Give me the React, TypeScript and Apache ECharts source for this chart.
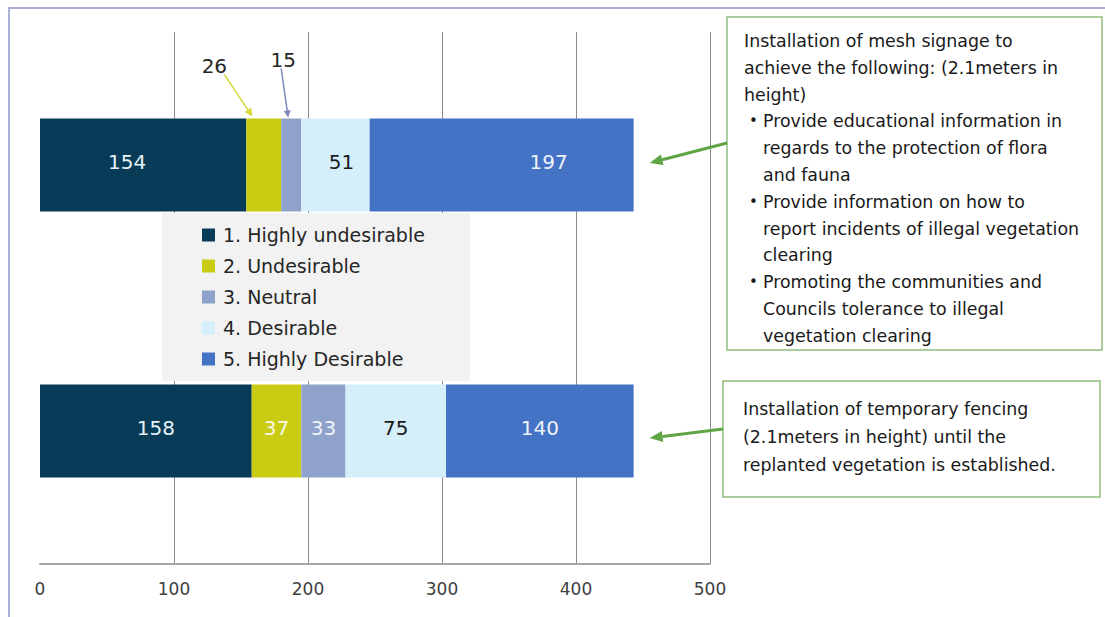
import React, { useEffect, useRef } from "react";
import * as echarts from "echarts";

const categories = ["Installation of mesh signage", "Installation of temporary fencing"];
const seriesNames = [
  "1. Highly undesirable",
  "2. Undesirable",
  "3. Neutral",
  "4. Desirable",
  "5. Highly Desirable",
];
const highlyUndesirable = [154, 158];
const undesirable = [26, 37];
const neutral = [15, 33];
const desirable = [51, 75];
const highlyDesirable = [197, 140];
const xMin = 0;
const xMax = 500;
const xStep = 100;

const colors = ["#073b58", "#cacc14", "#8ea2cc", "#d4eefa", "#4472c4"];
const labelColors = ["#e6f2f8", "#f8f8e6", "#f0f3fa", "#1a1a1a", "#eef2fa"];

const box1Header = [
  "Installation of mesh signage to",
  "achieve the following: (2.1meters in",
  "height)",
];
const box1Bullets = [
  ["Provide educational information in", "regards to the protection of flora", "and fauna"],
  ["Provide information on how to", "report incidents of illegal vegetation", "clearing"],
  ["Promoting the communities and", "Councils tolerance to illegal", "vegetation clearing"],
];
const box2Lines = [
  "Installation of temporary fencing",
  "(2.1meters in height) until the",
  "replanted vegetation is established.",
];

const FONT = "DejaVu Sans";
const BAR_W = 93;

function arrow(x1: number, y1: number, x2: number, y2: number, color: string, w: number, hl: number, hw: number) {
  const dx = x2 - x1, dy = y2 - y1;
  const L = Math.hypot(dx, dy);
  const ux = dx / L, uy = dy / L;
  const bx = x2 - ux * hl, by = y2 - uy * hl;
  const nx = -uy, ny = ux;
  return [
    { type: "line", silent: true, shape: { x1, y1, x2: bx, y2: by }, style: { stroke: color, lineWidth: w } },
    {
      type: "polygon",
      silent: true,
      shape: {
        points: [
          [x2, y2],
          [bx + (nx * hw) / 2, by + (ny * hw) / 2],
          [bx - (nx * hw) / 2, by - (ny * hw) / 2],
        ],
      },
      style: { fill: color },
    },
  ];
}

function txt(x: number, y: number, text: string, size: number, fill = "#1a1a1a", align = "left") {
  return {
    type: "text",
    silent: true,
    x,
    y,
    style: { text, fontSize: size, fontFamily: FONT, fill, align, verticalAlign: "middle" },
  };
}

export default function App() {
  const ref = useRef<HTMLDivElement>(null);
  useEffect(() => {
    if (!ref.current) return;
    const chart = echarts.init(ref.current, null, { renderer: "svg" });
    const allValues = [highlyUndesirable, undesirable, neutral, desirable, highlyDesirable];
    // label offsets (px) for a few labels placed off-center in the original
    const labelShift: Record<string, number> = { "0-0": -16, "0-1": 10, "4-0": 47, "3-0": 6 };
    const hiddenTop = new Set(["1-0", "2-0"]);
    const series = allValues.map((vals, si) => ({
      name: seriesNames[si],
      type: "bar",
      stack: "total",
      barWidth: BAR_W,
      itemStyle: { color: colors[si] },
      label: {
        show: true,
        position: "inside",
        fontFamily: FONT,
        fontSize: 20,
        color: labelColors[si],
      },
      data: vals.map((v, ci) => {
        const key = `${si}-${ci}`;
        return {
          value: v,
          label: {
            show: !hiddenTop.has(key),
            offset: [labelShift[key] || 0, -3],
          },
        };
      }),
    }));

    const option: any = {
      animation: false,
      backgroundColor: "#ffffff",
      grid: { left: 40, right: 395, top: 32, bottom: 53, containLabel: false },
      xAxis: {
        type: "value",
        min: xMin,
        max: xMax,
        interval: xStep,
        axisLine: { show: true, lineStyle: { color: "#a6a6a6", width: 2 } },
        axisTick: { show: false },
        axisLabel: { fontFamily: FONT, fontSize: 17, color: "#404040", margin: 16 },
        splitLine: { show: true, showMinLine: false, lineStyle: { color: "#8c8c8c", width: 1 } },
      },
      yAxis: {
        type: "category",
        data: categories,
        inverse: true,
        axisLine: { show: false },
        axisTick: { show: false },
        axisLabel: { show: false },
        splitLine: { show: false },
      },
      legend: {
        orient: "vertical",
        left: 162,
        top: 213,
        padding: [12, 45, 12, 40],
        itemWidth: 13,
        itemHeight: 13,
        itemGap: 11,
        icon: "rect",
        selectedMode: false,
        backgroundColor: "#f2f2f2",
        textStyle: { fontFamily: FONT, fontSize: 19, color: "#262626", lineHeight: 20, padding: [0, 0, 0, 3] },
        data: seriesNames,
      },
      series,
    };
    chart.setOption(option);

    const px = (v: number, c: number) => chart.convertToPixel({ gridIndex: 0 } as any, [v, c]) as number[];
    const g: any[] = [];

    // outer frame
    g.push({
      type: "rect",
      silent: true,
      shape: { x: 9, y: 8, width: 1110, height: 620 },
      style: { fill: "none", stroke: "#a9afd9", lineWidth: 2 },
    });

    // external labels on top bar
    const top0 = px(0, 0);
    const barTop = top0[1] - BAR_W / 2;
    const seg2Start = px(highlyUndesirable[0], 0)[0];
    const seg3Start = px(highlyUndesirable[0] + undesirable[0], 0)[0];
    g.push(txt(seg2Start - 32, barTop - 53, String(undesirable[0]), 20, "#262626", "center"));
    g.push(...arrow(seg2Start - 22, barTop - 44, seg2Start + 6, barTop - 2, "#d6da3a", 1.5, 8, 8));
    g.push(txt(seg3Start + 2, barTop - 59, String(neutral[0]), 20, "#262626", "center"));
    g.push(...arrow(seg3Start, barTop - 50, seg3Start + 7, barTop - 1, "#7d86b8", 1.5, 7, 7));

    // text box 1
    g.push({
      type: "rect",
      silent: true,
      shape: { x: 727, y: 17, width: 375, height: 333 },
      style: { fill: "#ffffff", stroke: "#8fc07e", lineWidth: 1.5 },
    });
    let ly = 41;
    const lh = 26.8;
    box1Header.forEach((t) => {
      g.push(txt(744, ly, t, 17.4));
      ly += lh;
    });
    box1Bullets.forEach((lines) => {
      g.push(txt(749, ly, "\u2022", 15));
      lines.forEach((t) => {
        g.push(txt(763, ly, t, 17.4));
        ly += lh;
      });
    });

    // text box 2
    g.push({
      type: "rect",
      silent: true,
      shape: { x: 723, y: 381, width: 377, height: 116 },
      style: { fill: "#ffffff", stroke: "#8fc07e", lineWidth: 1.5 },
    });
    box2Lines.forEach((t, i) => g.push(txt(743, 409 + i * 28, t, 17.4)));

    // green arrows from boxes to bars
    const total0 = allValues.reduce((s, a) => s + a[0], 0);
    const total1 = allValues.reduce((s, a) => s + a[1], 0);
    const end0 = px(total0, 0);
    const end1 = px(total1, 1);
    g.push(...arrow(727, 143, end0[0] + 16, end0[1] - 2, "#5fa545", 3, 13, 11));
    g.push(...arrow(723, 429, end1[0] + 16, end1[1] + 7, "#5fa545", 3, 13, 11));

    chart.setOption({ graphic: g });
    return () => chart.dispose();
  }, []);

  return (
    <div
      ref={ref}
      style={{ position: "absolute", left: 0, top: 0, width: 1105, height: 617, background: "#fff" }}
    />
  );
}
